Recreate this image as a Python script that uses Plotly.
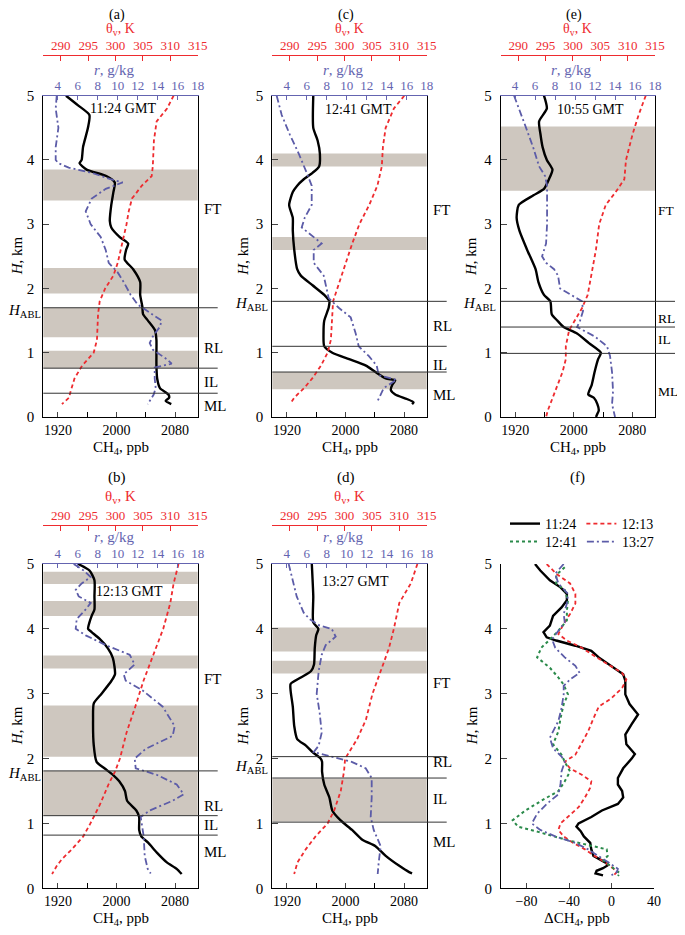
import plotly.graph_objects as go

# The page body adds an 8 px margin on every side, so the figure is sized to fit inside it
PAGE_OFF = 8
W, HGT = 685 - 2 * PAGE_OFF, 935 - 2 * PAGE_OFF
FONT = "Liberation Serif"
RED = "#ee2b2f"
BLUE = "#5c5ca8"
BLUE_TXT = "#6464b0"
GREEN = "#2a8a4a"
BAND = "#cec7bf"

# ---------------- data: panel (a) 11:24 ----------------
A_H_CH4 = [5.0, 4.85, 4.7, 4.5, 4.2, 4.0, 3.95, 3.85, 3.75, 3.65, 3.5, 3.3, 3.05, 2.95, 2.8, 2.7, 2.6, 2.45, 2.3, 2.1, 1.9, 1.72, 1.6, 1.5, 1.35, 1.2, 1.0, 0.8, 0.6, 0.45, 0.35, 0.3, 0.25, 0.2]
A_CH4 = [1931, 1947.5, 1963, 1961, 1954.3, 1952.4, 1949.5, 1959.1, 1986.1, 1997.7, 1995.8, 1992.9, 1990.9, 1992.9, 2004.5, 2016.0, 2013.1, 2011.2, 2022.8, 2032.4, 2032.4, 2035.3, 2036.3, 2043.0, 2052.7, 2054.6, 2054.6, 2054.6, 2055.6, 2059.4, 2071.0, 2072.0, 2067.2, 2074.9]
A_H_TH = [5.0, 4.8, 4.6, 4.3, 3.9, 3.75, 3.6, 3.4, 3.2, 3.0, 2.7, 2.4, 2.2, 2.0, 1.8, 1.6, 1.2, 1.0, 0.8, 0.6, 0.4, 0.3, 0.2]
A_TH = [310.6, 309.4, 307.5, 307.0, 306.8, 306.6, 304.8, 303.0, 302.4, 302.0, 301.2, 300.4, 299.6, 298.1, 297.1, 296.8, 296.6, 296.0, 293.9, 292.5, 291.8, 291.5, 290.2]
A_H_R = [5.0, 4.8, 4.5, 4.2, 4.0, 3.95, 3.88, 3.8, 3.7, 3.65, 3.55, 3.4, 3.2, 3.0, 2.8, 2.6, 2.4, 2.25, 2.1, 1.9, 1.75, 1.6, 1.5, 1.4, 1.25, 1.15, 1.05, 0.9, 0.83, 0.77, 0.6, 0.45, 0.35, 0.2]
A_R = [3.9, 3.8, 4.07, 3.8, 3.8, 4.07, 5.1, 7.4, 9.3, 10.5, 8.8, 7.4, 6.8, 7.3, 8.3, 8.8, 9.1, 10.0, 10.6, 11.3, 12.0, 13.5, 14.4, 14.2, 13.5, 13.2, 13.5, 14.9, 15.4, 13.7, 13.7, 13.8, 13.6, 13.0]
A_BANDS = [(3.37, 3.85), (1.92, 2.32), (1.24, 1.70), (0.76, 1.03)]
A_LINES = [1.70, 0.76, 0.37]
A_LAYERS = [("FT", 3.23), ("RL", 1.08), ("IL", 0.54), ("ML", 0.17)]

# ---------------- panel (c) 12:41 ----------------
C_H_CH4 = [5.0, 4.5, 4.3, 4.1, 3.9, 3.8, 3.7, 3.6, 3.5, 3.3, 3.1, 2.9, 2.6, 2.3, 2.2, 2.05, 1.9, 1.8, 1.7, 1.5, 1.3, 1.1, 1.0, 0.9, 0.8, 0.7, 0.6, 0.57, 0.5, 0.42, 0.35, 0.28, 0.23, 0.2]
C_CH4 = [1956, 1956, 1962, 1965, 1964, 1955, 1943, 1934, 1928, 1923, 1928, 1928, 1930, 1934, 1939, 1955, 1971, 1978, 1977, 1971, 1970, 1971, 1982, 2005, 2028, 2041, 2055, 2068, 2064, 2062, 2068, 2084, 2093, 2091]
C_H_TH = [5.0, 4.8, 4.5, 4.2, 3.9, 3.6, 3.3, 3.0, 2.7, 2.4, 2.1, 1.8, 1.5, 1.2, 1.0, 0.8, 0.6, 0.45, 0.3, 0.22]
C_TH = [310.9, 309.0, 307.5, 307.0, 306.8, 306.0, 304.5, 302.7, 301.4, 300.2, 299.0, 297.9, 297.7, 297.5, 296.9, 295.7, 294.1, 292.6, 290.8, 290.2]
C_H_R = [5.0, 4.7, 4.4, 4.1, 3.8, 3.6, 3.3, 3.1, 2.95, 2.8, 2.7, 2.6, 2.4, 2.2, 2.0, 1.85, 1.7, 1.55, 1.3, 1.1, 0.95, 0.8, 0.65, 0.58, 0.5, 0.45, 0.35, 0.22]
C_R = [3.0, 3.5, 4.3, 5.2, 6.0, 6.5, 6.5, 5.8, 5.5, 6.7, 7.5, 6.7, 6.7, 7.7, 8.0, 8.2, 9.2, 10.4, 10.9, 11.2, 12.2, 13.0, 13.2, 15.0, 14.2, 13.7, 13.4, 13.0]
C_BANDS = [(3.9, 4.1), (2.6, 2.8), (0.43, 0.70)]
C_LINES = [1.80, 1.10, 0.70]
C_LAYERS = [("FT", 3.22), ("RL", 1.42), ("IL", 0.81), ("ML", 0.34)]

# ---------------- panel (e) 10:55 ----------------
E_H_CH4 = [5.0, 4.8, 4.6, 4.4, 4.2, 4.0, 3.85, 3.7, 3.55, 3.45, 3.3, 3.1, 2.9, 2.6, 2.3, 2.1, 1.9, 1.8, 1.6, 1.5, 1.4, 1.3, 1.15, 1.0, 0.9, 0.7, 0.5, 0.35, 0.3, 0.2, 0.1, 0.05, 0.0]
E_CH4 = [1959.2, 1963.1, 1952.5, 1954.4, 1957.3, 1963.1, 1970.8, 1966.0, 1959.2, 1944.8, 1924.7, 1921.8, 1925.6, 1936.2, 1947.7, 1951.6, 1959.2, 1967.9, 1969.8, 1977.5, 1986.1, 2004.4, 2020.7, 2037.0, 2033.2, 2028.4, 2024.5, 2019.7, 2027.4, 2032.2, 2034.1, 2032.2, 2030.3]
E_H_TH = [5.0, 4.7, 4.4, 4.0, 3.7, 3.5, 3.3, 3.0, 2.6, 2.2, 1.9, 1.7, 1.5, 1.35, 1.1, 0.9, 0.7, 0.5, 0.3, 0.1, 0.0]
E_TH = [313.3, 312.0, 310.9, 309.7, 309.4, 307.8, 306.0, 304.8, 304.2, 303.3, 302.7, 301.7, 300.3, 299.3, 298.7, 298.7, 298.1, 297.2, 296.2, 295.4, 295.1]
E_H_R = [5.0, 4.8, 4.5, 4.2, 3.9, 3.75, 3.6, 3.3, 3.0, 2.7, 2.5, 2.4, 2.3, 2.2, 2.0, 1.9, 1.8, 1.65, 1.5, 1.4, 1.25, 1.1, 0.95, 0.7, 0.4, 0.2, 0.0]
E_R = [3.9, 4.4, 5.1, 5.8, 6.4, 7.0, 7.2, 7.2, 7.2, 7.1, 6.7, 7.1, 7.9, 8.3, 8.5, 9.6, 10.7, 10.8, 10.5, 10.2, 12.0, 13.2, 13.5, 13.7, 13.8, 13.7, 14.0]
E_BANDS = [(3.52, 4.52)]
E_LINES = [1.80, 1.40, 0.99]
E_LAYERS = [("FT", 3.22), ("RL", 1.53), ("IL", 1.20), ("ML", 0.39)]

# ---------------- panel (b) 12:13 ----------------
B_H_CH4 = [5.0, 4.9, 4.75, 4.5, 4.3, 4.2, 4.1, 4.0, 3.95, 3.85, 3.7, 3.55, 3.3, 3.2, 3.0, 2.85, 2.6, 2.2, 1.95, 1.85, 1.75, 1.65, 1.5, 1.35, 1.2, 1.1, 0.9, 0.8, 0.7, 0.55, 0.4, 0.3, 0.22]
B_CH4 = [1947.6, 1963.1, 1969.9, 1969.9, 1969.9, 1966.1, 1963.1, 1961.2, 1966.1, 1976.7, 1988.3, 1995.1, 1998.0, 1993.2, 1979.6, 1969.0, 1968.0, 1969.0, 1972.8, 1983.5, 1995.1, 2003.8, 2011.6, 2014.5, 2027.1, 2031.0, 2031.0, 2033.9, 2043.6, 2055.2, 2068.8, 2082.3, 2089.1]
B_H_TH = [5.0, 4.7, 4.4, 4.0, 3.6, 3.2, 2.8, 2.4, 2.0, 1.8, 1.6, 1.3, 1.0, 0.8, 0.6, 0.45, 0.35, 0.22]
B_TH = [311.5, 310.6, 310.0, 308.7, 306.9, 305.1, 303.6, 302.0, 300.8, 299.9, 298.7, 297.2, 295.4, 294.1, 292.0, 290.2, 289.3, 288.4]
B_H_R = [5.0, 4.9, 4.8, 4.7, 4.6, 4.5, 4.4, 4.3, 4.15, 4.0, 3.9, 3.75, 3.6, 3.45, 3.3, 3.2, 3.05, 2.8, 2.5, 2.35, 2.15, 2.0, 1.85, 1.75, 1.6, 1.45, 1.35, 1.2, 1.1, 0.8, 0.5, 0.3, 0.23]
B_R = [5.6, 6.6, 7.3, 6.4, 5.8, 6.1, 7.3, 6.8, 5.9, 5.8, 6.8, 8.8, 11.2, 11.7, 10.6, 10.8, 12.5, 14.5, 15.7, 15.5, 12.8, 11.7, 11.8, 13.9, 15.9, 16.6, 15.5, 13.2, 12.3, 12.6, 12.7, 13.0, 13.3]
B_BANDS = [(4.69, 4.88), (4.2, 4.43), (3.39, 3.59), (2.03, 2.82), (1.12, 1.81)]
B_LINES = [1.81, 1.12, 0.82]
B_LAYERS = [("FT", 3.22), ("RL", 1.27), ("IL", 0.97), ("ML", 0.56)]

# ---------------- panel (d) 13:27 ----------------
D_H_CH4 = [5.0, 4.5, 4.1, 4.0, 3.9, 3.7, 3.45, 3.35, 3.25, 3.15, 3.05, 2.8, 2.5, 2.3, 2.2, 2.1, 2.0, 1.95, 1.8, 1.6, 1.4, 1.2, 1.05, 0.9, 0.75, 0.65, 0.5, 0.35, 0.25, 0.23]
D_CH4 = [1954, 1956, 1956, 1963, 1960, 1958, 1957, 1953, 1939, 1925, 1925, 1928, 1930, 1934, 1946, 1955, 1966, 1968, 1968, 1971, 1978, 1982, 1993, 2009, 2023, 2041, 2055, 2073, 2087, 2091]
D_H_TH = [5.0, 4.7, 4.4, 4.0, 3.7, 3.3, 3.0, 2.6, 2.3, 2.0, 1.8, 1.5, 1.2, 1.0, 0.8, 0.6, 0.4, 0.22]
D_TH = [313.3, 312.1, 310.0, 309.0, 308.1, 306.4, 305.1, 303.9, 302.3, 300.1, 299.9, 299.3, 298.1, 296.9, 294.7, 292.9, 291.4, 290.8]
D_H_R = [5.0, 4.8, 4.5, 4.25, 4.15, 4.05, 4.0, 3.88, 3.75, 3.6, 3.35, 3.0, 2.7, 2.4, 2.2, 2.1, 2.05, 1.95, 1.85, 1.7, 1.4, 1.1, 0.9, 0.65, 0.4, 0.22]
D_R = [4.2, 4.5, 5.0, 5.7, 6.3, 7.3, 8.5, 8.9, 7.9, 7.5, 7.2, 7.0, 7.3, 7.5, 7.2, 6.7, 7.9, 10.5, 11.9, 12.5, 12.5, 12.4, 12.7, 13.4, 13.2, 13.1]
D_BANDS = [(3.65, 4.02), (3.31, 3.51), (1.03, 1.69)]
D_LINES = [2.03, 1.70, 1.02]
D_LAYERS = [("FT", 3.17), ("RL", 1.94), ("IL", 1.38), ("ML", 0.71)]

# ---------------- panel (f) delta CH4 ----------------
F_H_1124 = [5.0, 4.9, 4.75, 4.64, 4.54, 4.44, 4.33, 4.2, 4.05, 3.95, 3.87, 3.82, 3.74, 3.66, 3.56, 3.43, 3.3, 3.2, 2.99, 2.84, 2.68, 2.53, 2.37, 2.22, 2.07, 2.0, 1.85, 1.7, 1.6, 1.5, 1.4, 1.3, 1.2, 1.1, 1.0, 0.95, 0.88, 0.8, 0.7, 0.6, 0.5, 0.4, 0.36, 0.31, 0.27, 0.23, 0.2]
F_1124 = [-72, -67, -58, -48, -42, -42, -47, -55, -58, -64, -61, -52, -34, -19, -12, 0, 11, 13, 13, 17, 25, 19, 13, 14, 22, 19, 11, 6, 6, 10, 11, 6, -9, -19, -31, -33, -29, -26, -20, -19, -17, -6, -3, -8, -14, -15, -8]
F_H_1213 = [5.0, 4.85, 4.7, 4.54, 4.39, 4.23, 4.08, 3.92, 3.82, 3.71, 3.58, 3.45, 3.32, 3.22, 3.09, 2.93, 2.8, 2.62, 2.42, 2.24, 2.06, 1.95, 1.85, 1.75, 1.65, 1.55, 1.4, 1.25, 1.1, 1.0, 0.9, 0.8, 0.7, 0.6, 0.5, 0.4, 0.3, 0.25, 0.2]
F_1213 = [-61, -52, -39, -34, -34, -39, -45, -50, -42, -28, -16, -3, 10, 14, 10, 0, -12, -17, -22, -28, -34, -44, -39, -28, -19, -20, -25, -31, -41, -48, -50, -45, -36, -25, -16, -6, 2, 5, 2]
F_H_1241 = [4.95, 4.83, 4.7, 4.6, 4.44, 4.28, 4.13, 3.97, 3.82, 3.71, 3.56, 3.4, 3.25, 3.14, 2.99, 2.84, 2.62, 2.42, 2.22, 2.06, 1.95, 1.8, 1.65, 1.5, 1.35, 1.2, 1.05, 0.95, 0.87, 0.74, 0.6, 0.5, 0.43, 0.37, 0.3, 0.23, 0.19]
F_1241 = [-44, -52, -52, -44, -41, -42, -42, -50, -59, -66, -70, -58, -50, -45, -41, -45, -48, -50, -55, -47, -44, -39, -44, -50, -66, -81, -93, -88, -69, -41, -4.5, -3.6, -7.7, -3, 3, 8, 6]
F_H_1327 = [5.0, 4.85, 4.7, 4.54, 4.39, 4.23, 4.1, 3.97, 3.84, 3.71, 3.56, 3.43, 3.32, 3.22, 3.12, 2.99, 2.78, 2.58, 2.32, 2.16, 2.03, 1.95, 1.8, 1.6, 1.45, 1.3, 1.15, 1.0, 0.9, 0.8, 0.7, 0.6, 0.5, 0.4, 0.3, 0.25, 0.2]
F_1327 = [-45, -53, -50, -41, -42, -45, -44, -50, -56, -53, -44, -34, -30, -39, -45, -45, -47, -50, -58, -55, -47, -44, -47, -48, -50, -61, -70, -75, -67, -53, -34, -22, -12, -3, 6, 5, 0]

CH4_TICKS = [1920, 2000, 2080]
CH4_MINOR = [1960, 2040]
TH_TICKS = [290, 295, 300, 305, 310, 315]
R_TICKS = [4, 6, 8, 10, 12, 14, 16, 18]
H_TICKS = [0, 1, 2, 3, 4, 5]
DCH4_TICKS = [-80, -40, 0, 40]

# ---------------- layout helpers (page pixel -> paper fraction) ----------------
def fx(px):
    return (px - PAGE_OFF) / W

def fy(py):
    return 1 - (py - PAGE_OFF) / HGT

COLS = [(43.3, 197.7), (272.3, 426.7), (500.7, 655.0)]
ROWS = [(95.7, 417.0), (564.0, 888.3)]
TH_LINE_Y = [55, 525]
CH4_RANGE = [1900, 2111]
TH_RANGE = [286.8, 315.0]
R_RANGE = [2.56, 18.0]

panels = [
    dict(tag="(a)", col=0, row=0, time="11:24 GMT", tpos=(2009, 4.80),
         ch4=(A_H_CH4, A_CH4), th=(A_H_TH, A_TH), r=(A_H_R, A_R),
         bands=A_BANDS, lines=A_LINES, layers=A_LAYERS, habl=1.65),
    dict(tag="(c)", col=1, row=0, time="12:41 GMT", tpos=(2018, 4.78),
         ch4=(C_H_CH4, C_CH4), th=(C_H_TH, C_TH), r=(C_H_R, C_R),
         bands=C_BANDS, lines=C_LINES, layers=C_LAYERS, habl=1.76),
    dict(tag="(e)", col=2, row=0, time="10:55 GMT", tpos=(2023, 4.78),
         ch4=(E_H_CH4, E_CH4), th=(E_H_TH, E_TH), r=(E_H_R, E_R),
         bands=E_BANDS, lines=E_LINES, layers=E_LAYERS, habl=1.76),
    dict(tag="(b)", col=0, row=1, time="12:13 GMT", tpos=(2018, 4.57),
         ch4=(B_H_CH4, B_CH4), th=(B_H_TH, B_TH), r=(B_H_R, B_R),
         bands=B_BANDS, lines=B_LINES, layers=B_LAYERS, habl=1.77),
    dict(tag="(d)", col=1, row=1, time="13:27 GMT", tpos=(2014, 4.73),
         ch4=(D_H_CH4, D_CH4), th=(D_H_TH, D_TH), r=(D_H_R, D_R),
         bands=D_BANDS, lines=D_LINES, layers=D_LAYERS, habl=1.87),
]

fig = go.Figure()
layout = {}
shapes = []
annotations = []

def tickfont(color="black", size=14):
    return dict(family=FONT, size=size, color=color)

def ann(text, x, y, xref="paper", yref="paper", size=15, color="black", angle=0,
        xanchor="center", yanchor="middle"):
    annotations.append(dict(text=text, x=x, y=y, xref=xref, yref=yref, showarrow=False,
                            font=dict(family=FONT, size=size, color=color),
                            textangle=angle, xanchor=xanchor, yanchor=yanchor,
                            borderpad=0))

AX_COMMON = dict(showgrid=False, zeroline=False, automargin=False)

for p, P in enumerate(panels):
    yi = p + 1
    xc, xr_, xt = 3 * p + 1, 3 * p + 2, 3 * p + 3
    c0, c1 = COLS[P["col"]]
    r0, r1 = ROWS[P["row"]]
    xdom = [fx(c0), fx(c1)]
    ydom = [fy(r1), fy(r0)]
    yname = "y" if yi == 1 else f"y{yi}"
    xcname = "x" if xc == 1 else f"x{xc}"

    layout[f"yaxis{yi}" if yi > 1 else "yaxis"] = dict(
        AX_COMMON, domain=ydom, anchor=xcname, range=[0, 5], tickvals=H_TICKS,
        ticks="inside", ticklen=6, showline=True, linecolor="black", linewidth=1,
        mirror=True, tickfont=tickfont(size=15), ticklabelstandoff=5)
    layout[f"xaxis{xc}" if xc > 1 else "xaxis"] = dict(
        AX_COMMON, domain=xdom, anchor=yname, range=CH4_RANGE, tickvals=CH4_TICKS,
        ticks="inside", ticklen=5, showline=True, linecolor="black", linewidth=1,
        tickfont=tickfont(size=14),
        minor=dict(tickmode="array", tickvals=CH4_MINOR, ticks="inside", ticklen=5,
                   tickcolor="black", showgrid=False))
    layout[f"xaxis{xr_}"] = dict(
        AX_COMMON, domain=xdom, anchor=yname, overlaying=xcname, side="top",
        range=R_RANGE, tickvals=R_TICKS, ticks="inside", ticklen=4,
        showline=True, linecolor=BLUE_TXT, linewidth=1, tickcolor=BLUE_TXT,
        tickfont=tickfont(BLUE_TXT, 13))
    layout[f"xaxis{xt}"] = dict(
        AX_COMMON, domain=xdom, anchor="free", position=fy(TH_LINE_Y[P["row"]]),
        overlaying=xcname, side="top", range=TH_RANGE, tickvals=TH_TICKS,
        ticks="inside", ticklen=5, showline=True, linecolor=RED, linewidth=1,
        tickcolor=RED, tickfont=tickfont(RED, 13))

    for lo, hi in P["bands"]:
        shapes.append(dict(type="rect", xref=f"{xcname} domain", yref=yname,
                           x0=0, x1=1, y0=lo, y1=hi, fillcolor=BAND,
                           line=dict(width=0), layer="below"))
    for h in P["lines"]:
        shapes.append(dict(type="line", xref="paper", yref=yname,
                           x0=fx(c0), x1=fx(min(c1 + 20, 676)), y0=h, y1=h,
                           line=dict(color="#333333", width=1), layer="above"))

    hc, vc = P["ch4"]
    ht, vt = P["th"]
    hr, vr = P["r"]
    fig.add_trace(go.Scatter(x=vt, y=ht, xaxis=f"x{xt}", yaxis=yname, mode="lines",
                             line=dict(color=RED, width=1.8, dash="4px,3px"),
                             showlegend=False))
    fig.add_trace(go.Scatter(x=vr, y=hr, xaxis=f"x{xr_}", yaxis=yname, mode="lines",
                             line=dict(color=BLUE, width=1.8, dash="7px,3px,2px,3px"),
                             showlegend=False))
    fig.add_trace(go.Scatter(x=vc, y=hc, xaxis=xcname, yaxis=yname, mode="lines",
                             line=dict(color="black", width=2.4, shape="spline", smoothing=0.6),
                             showlegend=False))

    cx = (c0 + c1) / 2
    if P["row"] == 0:
        ann(P["tag"], fx(cx - 4), fy(15), size=14)
        ann("θ<sub>v</sub>, K", fx(cx), fy(29.5), size=14, color=RED)
    else:
        ann(P["tag"], fx(cx - 4), fy(478), size=15)
        ann("θ<sub>v</sub>, K", fx(cx), fy(497), size=15, color=RED)
    ann("<i>r</i>, g/kg", fx(cx - 6), fy(70 + 467 * P["row"]), size=15, color=BLUE_TXT)
    ann("CH<sub>4</sub>, ppb", fx(cx), fy(r1 + 31), size=15)
    ann("<i>H</i>, km", fx(max(c0 - 29, 17)), 2.5, yref=yname, size=15, angle=-90)
    ann("<i>H</i><sub>ABL</sub>", fx(max(c0 - 21, 24)), P["habl"], yref=yname, size=15)
    ann(P["time"], P["tpos"][0], P["tpos"][1], xref=xcname, yref=yname, size=14)
    for lab, h in P["layers"]:
        if c1 < 600:
            ann(lab, fx(c1 + 5), h, yref=yname, size=15, xanchor="left")
        else:
            ann(lab, fx(657), h, yref=yname, size=13.5, xanchor="left")

# ---------------- panel (f) ----------------
c0, c1 = 501, 654
r0, r1 = ROWS[1]
layout["yaxis6"] = dict(AX_COMMON, domain=[fy(r1), fy(r0)], anchor="x16", range=[0, 5],
                        tickvals=H_TICKS, ticks="inside", ticklen=6, showline=True,
                        linecolor="black", linewidth=1, tickfont=tickfont(size=15),
                        ticklabelstandoff=5)
layout["xaxis16"] = dict(AX_COMMON, domain=[fx(c0), fx(c1)], anchor="y6", range=[-104, 40],
                         tickvals=DCH4_TICKS, ticks="inside", ticklen=5, showline=True,
                         linecolor="black", linewidth=1, tickfont=tickfont(size=14))
series_f = [
    ("11:24", F_1124, F_H_1124, dict(color="black", width=2.4), "legend"),
    ("12:13", F_1213, F_H_1213, dict(color=RED, width=1.8, dash="4px,3px"), "legend"),
    ("12:41", F_1241, F_H_1241, dict(color=GREEN, width=2, dash="dot"), "legend2"),
    ("13:27", F_1327, F_H_1327, dict(color=BLUE, width=1.8, dash="7px,3px,2px,3px"), "legend2"),
]
for name, xs, hs, ln, lg in series_f:
    fig.add_trace(go.Scatter(x=xs, y=hs, xaxis="x16", yaxis="y6", mode="lines", name=name,
                             line=ln, legend=lg))
ann("(f)", fx(577), fy(478), size=15)
ann("ΔCH<sub>4</sub>, ppb", fx(577), fy(r1 + 31), size=15)
ann("<i>H</i>, km", fx(c0 - 29), 2.5, yref="y6", size=15, angle=-90)

legend_common = dict(orientation="h", xanchor="left", yanchor="middle",
                     font=dict(family=FONT, size=14, color="black"),
                     bgcolor="rgba(0,0,0,0)", itemwidth=30, tracegroupgap=0)
layout["legend"] = dict(legend_common, x=fx(505), y=fy(524))
layout["legend2"] = dict(legend_common, x=fx(505), y=fy(542))

fig.update_layout(**layout)
fig.update_layout(width=W, height=HGT, margin=dict(l=0, r=0, t=0, b=0, autoexpand=False),
                  paper_bgcolor="white", plot_bgcolor="white",
                  shapes=shapes, annotations=annotations, showlegend=True,
                  font=dict(family=FONT))
fig.write_html("out.html")
